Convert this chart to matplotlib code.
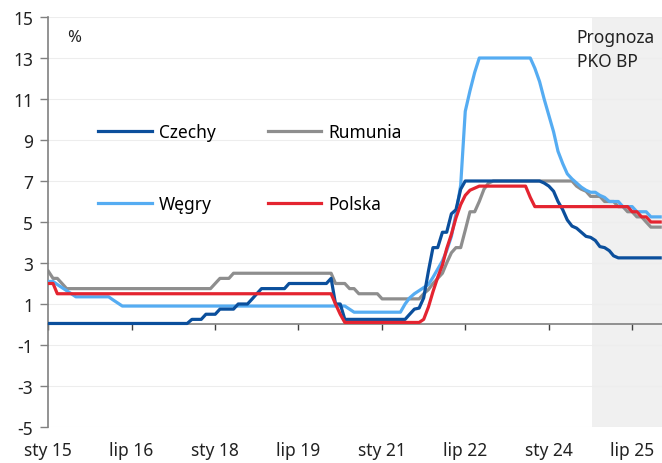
import numpy as np
import pandas as pd
import matplotlib
matplotlib.use("Agg")
import matplotlib.pyplot as plt

# stopy procentowe banków centralnych, dane miesięczne sty 2015 - sty 2026
czechy = (
    [0.05] * 12                                                        # 2015
    + [0.05] * 12                                                      # 2016
    + [0.05] * 7 + [0.25, 0.25, 0.25, 0.5, 0.5]                        # 2017
    + [0.5, 0.75, 0.75, 0.75, 0.75, 1.0, 1.0, 1.0, 1.25, 1.5, 1.75, 1.75]  # 2018
    + [1.75] * 4 + [2.0] * 8                                           # 2019
    + [2.0, 2.25, 1.0, 1.0, 0.25, 0.25, 0.25, 0.25, 0.25, 0.25, 0.25, 0.25]  # 2020
    + [0.25] * 6 + [0.5, 0.75, 0.8, 1.3, 2.6, 3.75]                    # 2021
    + [3.75, 4.5, 4.5, 5.4, 5.6, 6.6, 7.0, 7.0, 7.0, 7.0, 7.0, 7.0]    # 2022
    + [7.0] * 11 + [6.9]                                               # 2023
    + [6.75, 6.5, 6.0, 5.6, 5.1, 4.8, 4.7, 4.5, 4.3, 4.25, 4.1, 3.8]   # 2024
    + [3.75, 3.6, 3.35] + [3.25] * 9                                   # 2025
    + [3.25]                                                           # 2026
)
rumunia = (
    [2.6, 2.25, 2.25, 2.0] + [1.75] * 8
    + [1.75] * 12
    + [1.75] * 12
    + [2.0, 2.25, 2.25, 2.25] + [2.5] * 8
    + [2.5] * 12
    + [2.5, 2.5, 2.0, 2.0, 2.0, 1.75, 1.75, 1.5, 1.5, 1.5, 1.5, 1.5]
    + [1.25] * 9 + [1.5, 1.7, 2.0]
    + [2.25, 2.5, 3.0, 3.5, 3.75, 3.75, 4.6, 5.5, 5.5, 6.0, 6.6, 6.9]
    + [7.0] * 12
    + [7.0] * 6 + [6.75, 6.6, 6.5, 6.25, 6.25, 6.25]
    + [6.0, 6.0, 6.0, 5.75, 5.75, 5.5, 5.5, 5.25, 5.25, 5.0, 4.75, 4.75]
    + [4.75]
)
wegry = (
    [2.1, 2.1, 1.95, 1.8, 1.65, 1.5] + [1.35] * 6
    + [1.35, 1.35, 1.2, 1.05] + [0.9] * 8
    + [0.9] * 12
    + [0.9] * 12
    + [0.9] * 12
    + [0.9] * 5 + [0.75] + [0.6] * 6
    + [0.6] * 5 + [1.0, 1.3, 1.5, 1.65, 1.8, 1.95, 2.3]
    + [2.7, 3.1, 3.6, 4.3, 5.4, 6.8, 10.4, 11.4, 12.3, 13.0, 13.0, 13.0]
    + [13.0] * 9 + [12.5, 11.85, 11.0]
    + [10.2, 9.4, 8.45, 7.85, 7.35, 7.1, 6.9, 6.7, 6.55, 6.45, 6.45, 6.3]
    + [6.2, 6.0, 6.0, 6.0, 5.75, 5.75, 5.75, 5.5, 5.5, 5.5, 5.25, 5.25]
    + [5.25]
)
polska = (
    [2.0, 2.0] + [1.5] * 10
    + [1.5] * 12
    + [1.5] * 12
    + [1.5] * 12
    + [1.5] * 12
    + [1.5, 1.5, 1.0, 0.5] + [0.1] * 8
    + [0.1] * 9 + [0.25, 0.85, 1.6]
    + [2.3, 2.9, 3.7, 4.4, 5.2, 5.85, 6.3, 6.55, 6.65, 6.75, 6.75, 6.75]
    + [6.75] * 8 + [6.2, 5.75, 5.75, 5.75]
    + [5.75] * 12
    + [5.75] * 6 + [5.5, 5.5, 5.25, 5.25, 5.0, 5.0]
    + [5.0]
)

months = pd.date_range("2015-01-01", periods=len(czechy), freq="MS")

tick_dates = pd.to_datetime(["2015-01-01", "2016-07-01", "2018-01-01", "2019-07-01",
                             "2021-01-01", "2022-07-01", "2024-01-01", "2025-07-01"])
tick_labels = ["sty 15", "lip 16", "sty 18", "lip 19", "sty 21", "lip 22", "sty 24", "lip 25"]
forecast_start = pd.Timestamp("2024-10-08")
x_end = pd.Timestamp("2026-01-13")

plt.rcParams["font.family"] = ["Noto Sans", "DejaVu Sans"]
plt.rcParams["axes.unicode_minus"] = False

fig = plt.figure(figsize=(6.62, 4.64), dpi=100)
ax = fig.add_axes([0.073, 0.0776, 0.927, 0.8836])

ax.axvspan(forecast_start, x_end, color="#F0F0F0", zorder=0, lw=0)

lw = 2.3
l_cz, = ax.plot(months, czechy, color="#0B4F9C", lw=lw, label="Czechy", zorder=4)
l_ro, = ax.plot(months, rumunia, color="#8E8E8E", lw=lw, label="Rumunia", zorder=2)
l_hu, = ax.plot(months, wegry, color="#55ACF2", lw=lw, label="Węgry", zorder=3)
l_pl, = ax.plot(months, polska, color="#E42430", lw=lw, label="Polska", zorder=5)

ax.set_xlim(months[0], x_end)
ax.set_ylim(-5, 15)
ax.set_yticks(np.arange(-5, 16, 2))
ax.yaxis.grid(True, color="#EDEDED", lw=0.8)
ax.set_axisbelow(True)

ax.set_xticks(tick_dates)
ax.set_xticklabels(tick_labels)

for s in ["top", "right"]:
    ax.spines[s].set_visible(False)
ax.spines["left"].set_color("#808080")
ax.spines["left"].set_linewidth(1.2)
ax.spines["bottom"].set_position(("data", 0))
ax.spines["bottom"].set_color("#808080")
ax.spines["bottom"].set_linewidth(1.2)

ax.tick_params(axis="y", direction="out", length=6, width=1, color="#808080",
               labelsize=12.5, pad=5, labelcolor="#222222")
ax.tick_params(axis="x", direction="out", length=4, width=1, color="#404040",
               labelsize=12.5, pad=80, labelcolor="#222222")

ax.text(0.031, 0.951, "%", transform=ax.transAxes, fontsize=12, va="center",
        color="#222222")
ax.text(0.861, 0.922, "Prognoza\nPKO BP", transform=ax.transAxes, fontsize=12.5,
        va="center", ha="left", linespacing=1.45, color="#222222")

ax.legend(handles=[l_cz, l_hu, l_ro, l_pl], ncol=2, frameon=False,
          loc="upper left", bbox_to_anchor=(0.081, 0.741), borderpad=0,
          borderaxespad=0, handlelength=3.1, handletextpad=0.4,
          columnspacing=3.0, labelspacing=3.1, fontsize=12.5)

fig.savefig("out.png", dpi=100)
